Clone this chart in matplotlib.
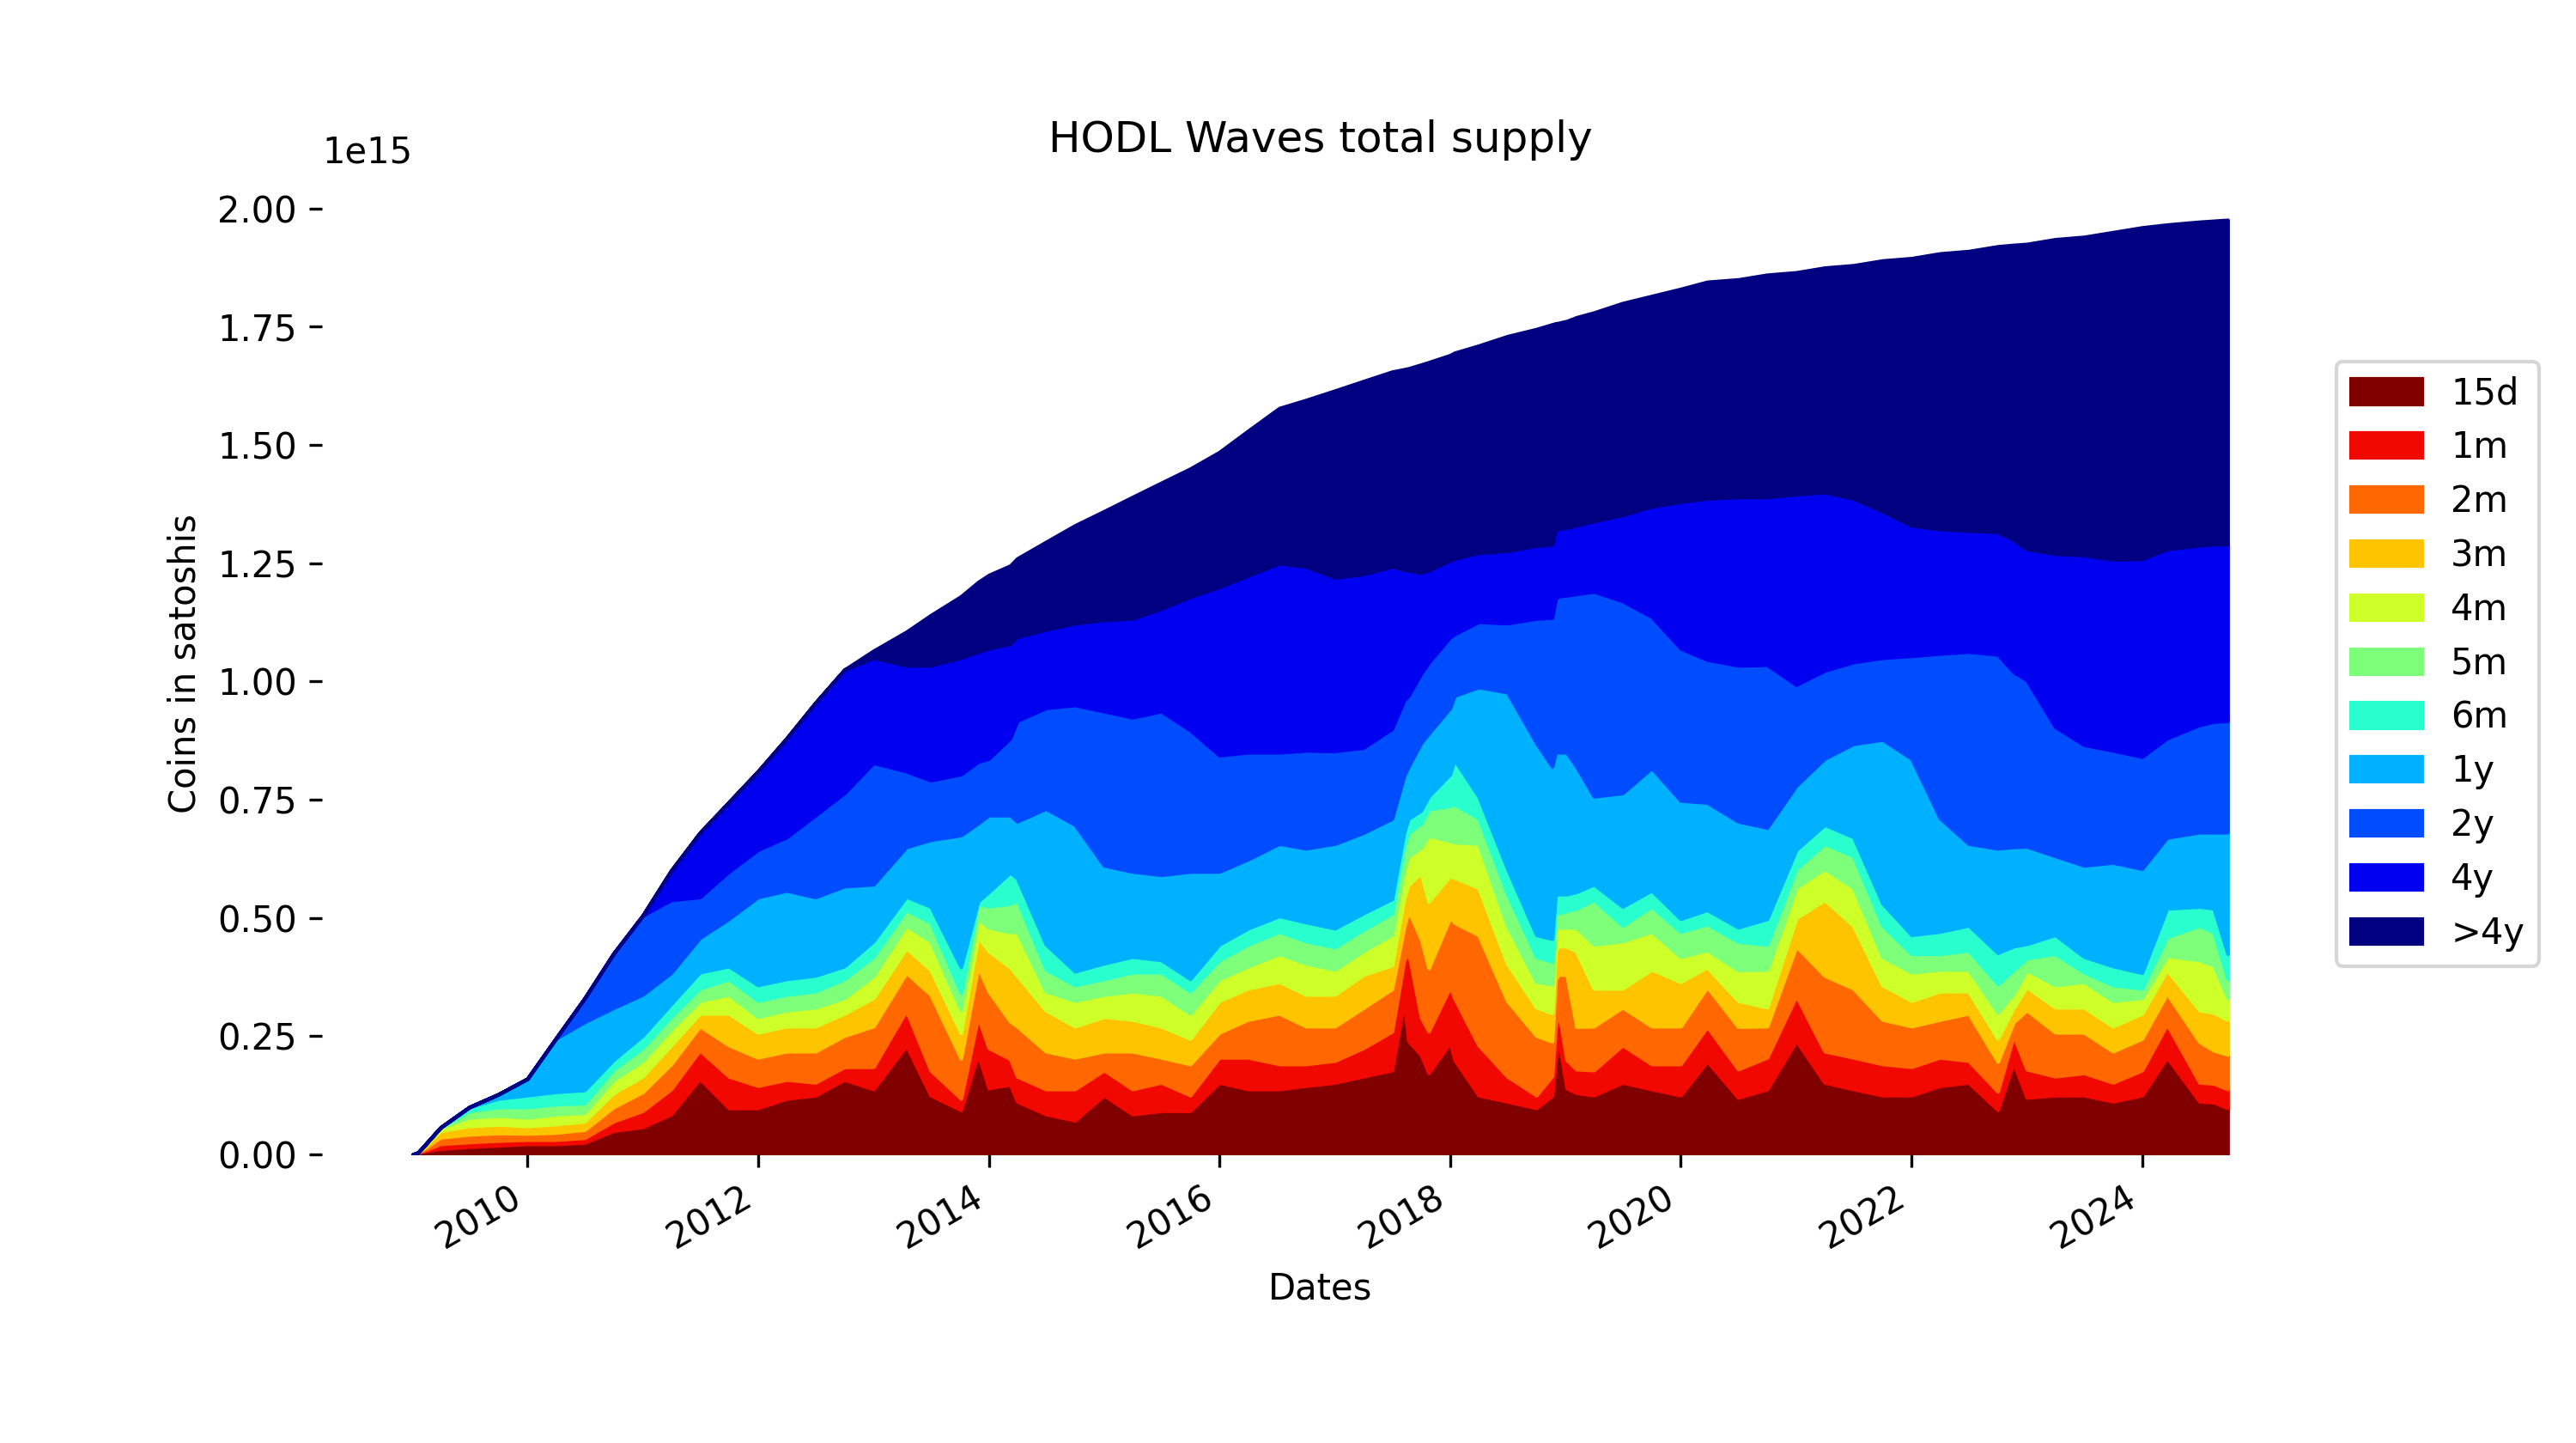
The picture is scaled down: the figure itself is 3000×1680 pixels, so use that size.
import numpy as np
import pandas as pd
from matplotlib import pyplot

dates = ["2009-01-03", "2009-01-20", "2009-04-01", "2009-07-01", "2009-10-01", "2010-01-01",
         "2010-04-01", "2010-07-01", "2010-10-01", "2011-01-01", "2011-04-01", "2011-07-01",
         "2011-10-01", "2012-01-01", "2012-04-01", "2012-07-01", "2012-10-01", "2013-01-01",
         "2013-04-15", "2013-07-01", "2013-10-05", "2013-11-28", "2014-01-01", "2014-03-10",
         "2014-04-01", "2014-07-01", "2014-10-01", "2015-01-01", "2015-04-01", "2015-07-01",
         "2015-10-01", "2016-01-01", "2016-04-01", "2016-07-09", "2016-10-01", "2017-01-01",
         "2017-04-01", "2017-07-01", "2017-08-08", "2017-08-22", "2017-10-01", "2017-10-25",
         "2018-01-01", "2018-01-15", "2018-04-01", "2018-07-01", "2018-10-01", "2018-11-20",
         "2018-12-01", "2018-12-10", "2019-01-05", "2019-02-05", "2019-04-01", "2019-07-01",
         "2019-10-01", "2020-01-01", "2020-03-25", "2020-07-01", "2020-10-01", "2021-01-01",
         "2021-04-01", "2021-07-01", "2021-10-01", "2022-01-01", "2022-04-01", "2022-07-01",
         "2022-10-01", "2022-11-20", "2023-01-01", "2023-04-01", "2023-07-01", "2023-10-01",
         "2024-01-01", "2024-03-20", "2024-07-01", "2024-08-15", "2024-09-28"]

# upper edge of each band (cumulative), in 1e15 satoshis
top15d = [0, .004, .012, .016, .019, .022, .022, .025, .05, .058, .085, .16, .098, .098, .118, .125,
          .158, .138, .230, .125, .094, .212, .14, .148, .112, .085, .072, .125, .085, .092, .092, .152,
          .138, .138, .145, .152, .165, .178, .324, .24, .21, .172, .236, .20, .125, .112, .098, .124,
          .20, .245, .14, .13, .125, .152, .138, .125, .197, .12, .138, .24, .152, .138, .125, .125,
          .145, .152, .094, .194, .12, .125, .125, .112, .125, .205, .112, .11, .098]
top1m = [0, .004, .022, .026, .029, .031, .031, .035, .07, .092, .138, .22, .165, .145, .158, .152,
         .185, .185, .304, .178, .118, .290, .225, .202, .165, .138, .138, .178, .138, .152, .125, .205,
         .205, .191, .191, .198, .225, .26, .41, .428, .29, .26, .354, .33, .231, .165, .125, .166,
         .27, .305, .20, .18, .178, .231, .191, .191, .27, .18, .205, .335, .218, .205, .191, .185,
         .205, .198, .133, .251, .18, .165, .172, .152, .178, .275, .152, .15, .138]
top2m = [0, .004, .036, .042, .045, .044, .046, .052, .10, .132, .191, .271, .231, .205, .218, .218,
         .251, .271, .384, .338, .203, .396, .345, .281, .271, .218, .205, .218, .218, .205, .191, .258,
         .285, .298, .271, .271, .31, .35, .48, .515, .455, .394, .501, .49, .464, .325, .251, .239,
         .37, .38, .38, .27, .271, .311, .271, .271, .354, .27, .271, .44, .378, .351, .285, .271,
         .285, .298, .196, .28, .305, .258, .258, .218, .245, .34, .238, .22, .211]
top3m = [0, .004, .050, .060, .063, .060, .064, .07, .13, .165, .231, .298, .298, .258, .271, .271,
         .298, .331, .436, .391, .257, .460, .43, .396, .378, .305, .271, .291, .285, .271, .245, .325,
         .351, .365, .338, .338, .38, .40, .54, .57, .595, .535, .589, .585, .564, .404, .311, .299,
         .43, .44, .44, .43, .351, .351, .391, .365, .396, .325, .311, .50, .538, .484, .358, .325,
         .345, .345, .245, .31, .354, .311, .311, .271, .298, .39, .305, .30, .285]
top4m = [0, .004, .057, .078, .082, .078, .085, .088, .158, .198, .265, .325, .338, .291, .305, .311,
         .331, .378, .484, .451, .306, .499, .48, .47, .471, .345, .325, .338, .345, .338, .298, .371,
         .398, .424, .404, .391, .43, .465, .60, .63, .649, .674, .663, .66, .657, .484, .365, .36,
         .48, .48, .48, .48, .444, .451, .471, .418, .432, .39, .391, .565, .604, .564, .418, .385,
         .391, .391, .30, .34, .39, .358, .365, .325, .331, .42, .411, .40, .331]
top5m = [0, .004, .057, .092, .100, .100, .106, .108, .18, .225, .291, .351, .371, .325, .338, .345,
         .371, .418, .517, .491, .342, .529, .525, .53, .538, .391, .358, .371, .385, .385, .345, .411,
         .444, .471, .451, .438, .475, .51, .65, .68, .70, .73, .737, .74, .711, .551, .418, .408,
         .51, .51, .515, .52, .538, .484, .524, .471, .487, .45, .444, .604, .657, .631, .484, .424,
         .424, .431, .36, .39, .415, .424, .385, .358, .351, .46, .484, .47, .371]
top6m = [0, .004, .057, .100, .118, .125, .132, .136, .20, .251, .318, .385, .398, .358, .371, .378,
         .398, .451, .545, .524, .396, .535, .555, .596, .584, .444, .387, .404, .418, .411, .371, .444,
         .478, .504, .491, .478, .51, .54, .68, .71, .727, .757, .804, .834, .757, .604, .464, .456,
         .548, .55, .55, .555, .571, .524, .558, .498, .517, .48, .498, .644, .697, .671, .531, .464,
         .471, .484, .426, .44, .445, .464, .418, .398, .384, .52, .524, .52, .424]
top1y = [0, .004, .057, .100, .127, .160, .245, .28, .31, .338, .384, .458, .498, .544, .558, .544,
         .567, .571, .65, .665, .675, .70, .717, .717, .704, .731, .697, .611, .598, .591, .598, .598,
         .624, .657, .647, .657, .68, .71, .80, .82, .87, .89, .944, .97, .988, .977, .87, .82,
         .85, .85, .85, .82, .757, .764, .817, .748, .744, .704, .691, .78, .837, .868, .877, .837,
         .711, .657, .647, .65, .651, .631, .611, .617, .604, .67, .681, .681, .681]
top2y = [0, .004, .057, .100, .127, .160, .245, .33, .425, .505, .538, .544, .598, .644, .671, .717,
         .764, .828, .81, .791, .804, .83, .837, .88, .917, .944, .95, .937, .924, .937, .897, .844,
         .85, .85, .854, .853, .86, .90, .96, .97, 1.017, 1.04, 1.094, 1.10, 1.126, 1.123, 1.133, 1.135,
         1.175, 1.18, 1.182, 1.185, 1.19, 1.17, 1.137, 1.07, 1.046, 1.034, 1.035, .993, 1.023, 1.041,
         1.05, 1.054, 1.059, 1.063, 1.057, 1.02, 1.003, .904, .866, .854, .841, .88, .908, .915, .917]
top4y = [0, .004, .057, .100, .127, .160, .245, .33, .425, .505, .60, .68, .745, .81, .88, .955,
         1.025, 1.05, 1.034, 1.034, 1.05, 1.063, 1.07, 1.08, 1.094, 1.11, 1.123, 1.13, 1.133, 1.154,
         1.179, 1.20, 1.224, 1.25, 1.243, 1.22, 1.227, 1.243, 1.236, 1.235, 1.23, 1.235, 1.256, 1.26,
         1.272, 1.276, 1.287, 1.29, 1.32, 1.323, 1.325, 1.33, 1.339, 1.352, 1.37, 1.38, 1.387, 1.39,
         1.39, 1.396, 1.40, 1.387, 1.36, 1.33, 1.322, 1.319, 1.316, 1.30, 1.28, 1.27, 1.267, 1.258,
         1.259, 1.28, 1.288, 1.29, 1.29]
totalSupply = [0, .004, .057, .100, .127, .160, .245, .33, .425, .505, .60, .68, .745, .81, .88, .955,
               1.025, 1.065, 1.105, 1.14, 1.18, 1.21, 1.225, 1.245, 1.26, 1.295, 1.33, 1.36, 1.39, 1.42,
               1.45, 1.485, 1.53, 1.578, 1.595, 1.615, 1.635, 1.655, 1.66, 1.662, 1.67, 1.675, 1.69,
               1.695, 1.71, 1.73, 1.745, 1.755, 1.757, 1.758, 1.762, 1.77, 1.78, 1.80, 1.815, 1.83,
               1.845, 1.85, 1.86, 1.865, 1.875, 1.88, 1.89, 1.895, 1.905, 1.91, 1.92, 1.923, 1.925,
               1.935, 1.94, 1.95, 1.96, 1.966, 1.972, 1.974, 1.976]

labels = ["15d", "1m", "2m", "3m", "4m", "5m", "6m", "1y", "2y", "4y", ">4y"]

x = pd.to_datetime(dates)
tops = np.array([top15d, top1m, top2m, top3m, top4m, top5m, top6m, top1y, top2y, top4y, totalSupply])
bands = np.diff(np.vstack([np.zeros(len(dates)), tops]), axis=0) * 1e15

colors = pyplot.cm.jet(np.linspace(1, 0, len(labels)))

fig, ax = pyplot.subplots(figsize=(10, 5.6))
polys = ax.stackplot(x, bands, labels=labels, colors=colors)
# outline each band in its own colour
for poly, c in zip(polys, colors):
    poly.set_edgecolor(c)
    poly.set_linewidth(1.0)

ax.set_title("HODL Waves total supply")
ax.set_xlabel("Dates")
ax.set_ylabel("Coins in satoshis")
for side in ["top", "right", "bottom", "left"]:
    ax.spines[side].set_visible(False)

ax.legend(loc="center left", bbox_to_anchor=(1, 0.5))
fig.autofmt_xdate()

pyplot.savefig("out.png", dpi=300)
